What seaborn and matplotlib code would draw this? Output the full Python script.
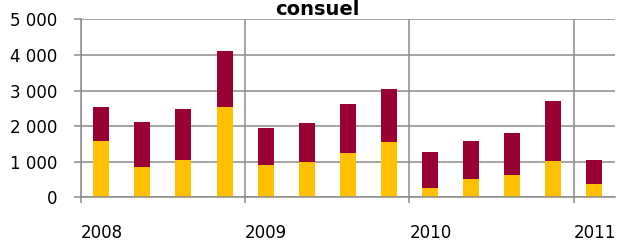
import matplotlib
matplotlib.use("Agg")
import matplotlib.pyplot as plt
import seaborn as sns
import pandas as pd
from matplotlib.ticker import FuncFormatter

# quarterly values, 2008 T1 -> 2011 T1
periods = ["2008 T1", "2008 T2", "2008 T3", "2008 T4",
           "2009 T1", "2009 T2", "2009 T3", "2009 T4",
           "2010 T1", "2010 T2", "2010 T3", "2010 T4",
           "2011 T1"]
bottom_vals = [1570, 860, 1060, 2550, 910, 1000, 1255, 1545, 260, 525, 620, 1030, 365]
top_vals = [980, 1260, 1410, 1570, 1040, 1090, 1355, 1505, 1005, 1055, 1180, 1670, 695]
year_labels = ["2008", "2009", "2010", "2011"]

df = pd.DataFrame({"periode": periods, "bas": bottom_vals, "haut": top_vals})
df["total"] = df["bas"] + df["haut"]

sns.set_style("white")
plt.rcParams["font.family"] = ["DejaVu Sans"]
plt.rcParams["text.color"] = "black"
plt.rcParams["xtick.labelcolor"] = "black"
plt.rcParams["ytick.labelcolor"] = "black"

fig = plt.figure(figsize=(6.34, 2.45), dpi=100)
ax = fig.add_axes([0.1273, 0.1947, 0.8427, 0.7265])

sns.barplot(data=df, x="periode", y="total", color="#990033", width=0.39,
            saturation=1, linewidth=0, ax=ax)
sns.barplot(data=df, x="periode", y="bas", color="#FFC000", width=0.39,
            saturation=1, linewidth=0, ax=ax)

grid_c = "#8c8c8c"
ax.set_xlim(-0.5, len(periods) - 0.5)
ax.set_ylim(0, 5000)
ax.set_yticks([0, 1000, 2000, 3000, 4000, 5000])
ax.yaxis.set_major_formatter(FuncFormatter(lambda v, p: f"{int(v):,}".replace(",", " ")))
ax.set_xticks([-0.5, 3.5, 7.5, 11.5])
ax.set_xticklabels(year_labels, ha="left")
ax.set_xlabel("")
ax.set_ylabel("")

ax.grid(True, color=grid_c, linewidth=1.1)
ax.set_axisbelow(True)
for s in ["top", "right"]:
    ax.spines[s].set_visible(False)
for s in ["left", "bottom"]:
    ax.spines[s].set_color(grid_c)
    ax.spines[s].set_linewidth(1.1)

ax.tick_params(axis="y", length=5, width=1.1, color=grid_c, pad=12, labelsize=12,
               labelcolor="black", left=True)
ax.tick_params(axis="x", length=4.5, width=1.1, color=grid_c, pad=15, labelsize=12,
               labelcolor="black", bottom=True)

fig.text(0.5, 0.94, "consuel", ha="center", va="baseline", fontsize=14,
         fontweight="bold", color="black")

fig.savefig("out.png", dpi=100)
